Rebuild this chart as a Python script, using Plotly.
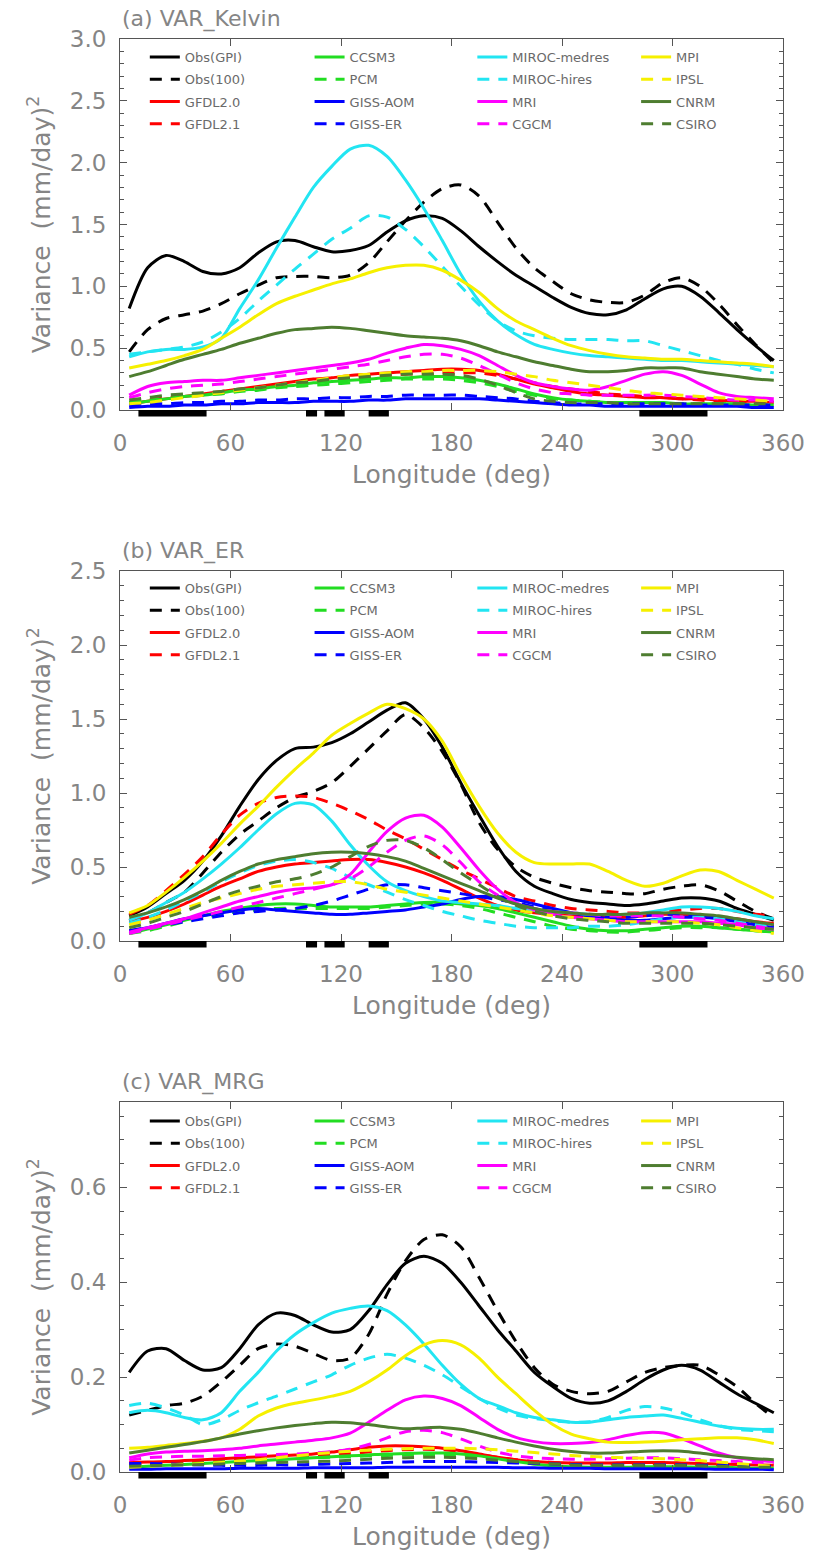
import plotly.graph_objects as go

# ---------------- data ----------------
LON = [5, 15, 25, 35, 45, 55, 65, 75, 85, 95, 105, 115, 125, 135, 145, 155, 165, 175,
       185, 195, 205, 215, 225, 235, 245, 255, 265, 275, 285, 295, 305, 315, 325, 335, 345, 355]

MODEL_NAMES = ["Obs(GPI)", "Obs(100)", "GFDL2.0", "GFDL2.1",
               "CCSM3", "PCM", "GISS-AOM", "GISS-ER",
               "MIROC-medres", "MIROC-hires", "MRI", "CGCM",
               "MPI", "IPSL", "CNRM", "CSIRO"]

# land longitude segments (black bars under the x axis)
LAND_START = [10, 101, 111, 135, 282]
LAND_END = [47, 107, 122, 146, 319]

X_TICKS = [0, 60, 120, 180, 240, 300, 360]

# (a) Kelvin
A_GPI = [0.82,1.15,1.25,1.20,1.12,1.10,1.15,1.27,1.36,1.37,1.32,1.28,1.29,1.33,1.44,1.53,1.57,1.55,1.45,1.32,1.20,1.09,1.00,0.91,0.83,0.78,0.77,0.81,0.90,0.98,1.00,0.92,0.79,0.65,0.52,0.40]
A_O100 = [0.47,0.65,0.74,0.77,0.80,0.86,0.94,1.01,1.07,1.08,1.08,1.07,1.09,1.19,1.36,1.53,1.68,1.79,1.82,1.73,1.52,1.31,1.15,1.04,0.94,0.89,0.87,0.87,0.93,1.03,1.07,1.00,0.86,0.69,0.53,0.38]
A_GFDL20 = [0.05,0.07,0.09,0.11,0.13,0.15,0.17,0.19,0.21,0.23,0.25,0.26,0.28,0.29,0.30,0.31,0.32,0.33,0.33,0.32,0.29,0.25,0.21,0.18,0.15,0.13,0.12,0.11,0.10,0.10,0.09,0.09,0.08,0.07,0.07,0.06]
A_GFDL21 = [0.06,0.08,0.10,0.11,0.12,0.14,0.16,0.18,0.20,0.22,0.23,0.25,0.26,0.27,0.28,0.29,0.29,0.30,0.30,0.30,0.28,0.25,0.22,0.19,0.17,0.15,0.13,0.12,0.11,0.10,0.09,0.08,0.07,0.07,0.06,0.06]
A_CCSM3 = [0.05,0.07,0.09,0.11,0.12,0.14,0.16,0.17,0.19,0.20,0.22,0.23,0.24,0.25,0.26,0.26,0.27,0.27,0.26,0.24,0.21,0.17,0.13,0.10,0.08,0.07,0.06,0.06,0.06,0.06,0.05,0.05,0.05,0.05,0.04,0.04]
A_PCM = [0.06,0.08,0.09,0.11,0.12,0.13,0.15,0.16,0.18,0.19,0.20,0.21,0.22,0.23,0.24,0.25,0.25,0.25,0.24,0.22,0.19,0.15,0.12,0.09,0.08,0.07,0.06,0.06,0.06,0.05,0.05,0.05,0.05,0.05,0.04,0.04]
A_GISSAOM = [0.02,0.03,0.03,0.04,0.04,0.05,0.05,0.06,0.06,0.06,0.07,0.07,0.07,0.08,0.08,0.09,0.09,0.09,0.09,0.09,0.08,0.07,0.06,0.05,0.04,0.04,0.03,0.03,0.03,0.03,0.03,0.03,0.03,0.03,0.02,0.02]
A_GISSER = [0.04,0.05,0.05,0.06,0.06,0.07,0.07,0.08,0.08,0.09,0.09,0.10,0.10,0.11,0.11,0.12,0.12,0.12,0.12,0.11,0.10,0.09,0.07,0.06,0.05,0.05,0.05,0.05,0.05,0.05,0.05,0.04,0.04,0.04,0.04,0.04]
A_MIROCM = [0.43,0.47,0.49,0.49,0.51,0.58,0.82,1.05,1.31,1.56,1.80,1.97,2.11,2.14,2.05,1.86,1.63,1.37,1.10,0.88,0.72,0.61,0.53,0.49,0.46,0.44,0.43,0.42,0.41,0.40,0.40,0.39,0.38,0.37,0.36,0.35]
A_MIROCH = [0.45,0.47,0.49,0.51,0.55,0.63,0.74,0.88,1.01,1.14,1.26,1.38,1.47,1.57,1.56,1.46,1.32,1.16,1.00,0.85,0.72,0.64,0.60,0.58,0.57,0.57,0.57,0.56,0.56,0.52,0.48,0.44,0.40,0.37,0.33,0.30]
A_MRI = [0.12,0.19,0.22,0.23,0.24,0.24,0.26,0.28,0.30,0.32,0.34,0.36,0.38,0.41,0.46,0.50,0.53,0.52,0.49,0.44,0.36,0.28,0.22,0.19,0.17,0.16,0.19,0.24,0.29,0.31,0.28,0.21,0.14,0.11,0.10,0.09]
A_CGCM = [0.10,0.14,0.17,0.19,0.20,0.21,0.23,0.25,0.27,0.29,0.31,0.33,0.35,0.37,0.40,0.43,0.45,0.45,0.42,0.36,0.29,0.22,0.17,0.14,0.13,0.12,0.12,0.12,0.12,0.12,0.11,0.10,0.09,0.08,0.08,0.07]
A_MPI = [0.34,0.37,0.40,0.44,0.49,0.58,0.67,0.77,0.86,0.92,0.97,1.02,1.06,1.11,1.15,1.17,1.17,1.13,1.05,0.95,0.82,0.72,0.65,0.58,0.52,0.48,0.45,0.43,0.42,0.41,0.41,0.40,0.39,0.38,0.37,0.35]
A_IPSL = [0.05,0.06,0.08,0.10,0.12,0.14,0.16,0.18,0.20,0.22,0.24,0.26,0.28,0.29,0.30,0.31,0.31,0.32,0.32,0.32,0.31,0.29,0.27,0.24,0.22,0.20,0.18,0.16,0.14,0.13,0.12,0.11,0.10,0.09,0.08,0.07]
A_CNRM = [0.27,0.31,0.36,0.41,0.45,0.49,0.54,0.58,0.62,0.65,0.66,0.67,0.66,0.64,0.62,0.60,0.59,0.58,0.56,0.52,0.47,0.43,0.39,0.36,0.33,0.31,0.31,0.32,0.34,0.34,0.34,0.31,0.29,0.27,0.25,0.24]
A_CSIRO = [0.08,0.10,0.12,0.13,0.14,0.15,0.17,0.18,0.20,0.22,0.23,0.25,0.26,0.27,0.28,0.29,0.29,0.29,0.28,0.25,0.20,0.14,0.09,0.07,0.06,0.06,0.06,0.05,0.05,0.05,0.05,0.05,0.05,0.05,0.05,0.05]

# (b) ER
B_GPI = [0.17,0.23,0.32,0.41,0.54,0.71,0.91,1.09,1.22,1.30,1.31,1.34,1.40,1.48,1.56,1.61,1.50,1.31,1.07,0.85,0.64,0.47,0.37,0.32,0.28,0.26,0.25,0.24,0.25,0.27,0.29,0.29,0.27,0.22,0.18,0.14]
B_O100 = [0.14,0.19,0.26,0.33,0.46,0.60,0.72,0.81,0.90,0.97,1.01,1.07,1.18,1.30,1.42,1.53,1.44,1.28,1.06,0.80,0.62,0.50,0.43,0.39,0.36,0.34,0.33,0.32,0.32,0.35,0.37,0.38,0.34,0.27,0.20,0.15]
B_GFDL20 = [0.13,0.16,0.20,0.25,0.31,0.37,0.42,0.47,0.50,0.52,0.53,0.54,0.55,0.55,0.53,0.50,0.46,0.41,0.35,0.29,0.24,0.21,0.19,0.18,0.17,0.16,0.16,0.16,0.17,0.18,0.18,0.17,0.16,0.15,0.13,0.12]
B_GFDL21 = [0.18,0.24,0.34,0.45,0.57,0.72,0.85,0.93,0.97,0.98,0.97,0.93,0.88,0.82,0.75,0.69,0.62,0.55,0.48,0.42,0.36,0.30,0.27,0.24,0.22,0.21,0.20,0.19,0.19,0.20,0.21,0.22,0.22,0.20,0.18,0.17]
B_CCSM3 = [0.05,0.08,0.11,0.14,0.17,0.20,0.22,0.24,0.25,0.25,0.24,0.23,0.23,0.23,0.24,0.25,0.26,0.26,0.25,0.24,0.22,0.19,0.16,0.13,0.10,0.08,0.07,0.07,0.08,0.09,0.10,0.10,0.09,0.08,0.07,0.06]
B_PCM = [0.05,0.07,0.10,0.13,0.16,0.18,0.20,0.21,0.22,0.22,0.22,0.22,0.22,0.22,0.23,0.24,0.25,0.25,0.24,0.22,0.19,0.16,0.13,0.10,0.08,0.07,0.06,0.06,0.07,0.08,0.09,0.09,0.09,0.08,0.07,0.06]
B_GISSAOM = [0.07,0.09,0.12,0.15,0.17,0.19,0.21,0.22,0.21,0.20,0.19,0.18,0.18,0.19,0.20,0.21,0.23,0.25,0.28,0.30,0.30,0.28,0.25,0.22,0.19,0.17,0.15,0.14,0.14,0.15,0.16,0.16,0.15,0.13,0.11,0.09]
B_GISSER = [0.07,0.09,0.11,0.13,0.15,0.17,0.19,0.20,0.21,0.22,0.24,0.27,0.31,0.35,0.38,0.38,0.36,0.34,0.32,0.30,0.28,0.26,0.23,0.21,0.19,0.17,0.16,0.16,0.17,0.18,0.18,0.17,0.16,0.14,0.12,0.10]
B_MIROCM = [0.14,0.19,0.26,0.33,0.42,0.52,0.63,0.75,0.86,0.93,0.92,0.81,0.65,0.51,0.40,0.34,0.30,0.27,0.26,0.25,0.24,0.22,0.21,0.20,0.19,0.18,0.18,0.18,0.19,0.21,0.23,0.23,0.22,0.20,0.17,0.15]
B_MIROCH = [0.12,0.16,0.21,0.27,0.33,0.40,0.46,0.51,0.54,0.55,0.53,0.49,0.43,0.38,0.33,0.28,0.24,0.20,0.17,0.14,0.12,0.10,0.09,0.09,0.09,0.10,0.10,0.11,0.13,0.15,0.16,0.16,0.15,0.13,0.11,0.10]
B_MRI = [0.06,0.09,0.12,0.15,0.19,0.23,0.27,0.30,0.33,0.35,0.36,0.38,0.45,0.60,0.74,0.83,0.85,0.77,0.63,0.48,0.35,0.26,0.21,0.18,0.16,0.15,0.14,0.13,0.13,0.13,0.13,0.13,0.12,0.11,0.09,0.08]
B_CGCM = [0.05,0.08,0.11,0.14,0.17,0.20,0.23,0.26,0.29,0.32,0.35,0.38,0.42,0.50,0.60,0.68,0.71,0.65,0.53,0.40,0.31,0.25,0.22,0.20,0.19,0.18,0.17,0.17,0.17,0.17,0.16,0.15,0.14,0.12,0.10,0.08]
B_MPI = [0.19,0.24,0.33,0.43,0.54,0.66,0.79,0.91,1.04,1.16,1.27,1.39,1.47,1.54,1.60,1.57,1.50,1.35,1.12,0.91,0.73,0.60,0.53,0.52,0.52,0.52,0.47,0.41,0.37,0.39,0.44,0.48,0.47,0.41,0.35,0.29]
B_IPSL = [0.11,0.14,0.18,0.22,0.26,0.29,0.32,0.35,0.37,0.38,0.39,0.40,0.40,0.38,0.35,0.33,0.31,0.29,0.27,0.25,0.23,0.21,0.19,0.17,0.16,0.15,0.14,0.13,0.13,0.13,0.13,0.12,0.11,0.09,0.07,0.05]
B_CNRM = [0.16,0.19,0.23,0.28,0.34,0.41,0.47,0.52,0.55,0.57,0.59,0.60,0.60,0.59,0.57,0.54,0.49,0.44,0.39,0.34,0.29,0.25,0.22,0.20,0.19,0.18,0.18,0.18,0.19,0.19,0.19,0.18,0.17,0.15,0.13,0.11]
B_CSIRO = [0.09,0.12,0.16,0.20,0.25,0.30,0.34,0.37,0.40,0.42,0.45,0.50,0.57,0.64,0.68,0.68,0.63,0.55,0.46,0.38,0.30,0.24,0.20,0.17,0.15,0.14,0.13,0.12,0.12,0.12,0.12,0.12,0.11,0.10,0.09,0.08]

# (c) MRG
C_GPI = [0.21,0.255,0.26,0.235,0.215,0.22,0.26,0.31,0.335,0.33,0.31,0.295,0.30,0.34,0.395,0.44,0.455,0.44,0.40,0.35,0.30,0.255,0.21,0.18,0.155,0.145,0.15,0.17,0.195,0.215,0.225,0.215,0.19,0.165,0.145,0.125]
C_O100 = [0.12,0.13,0.14,0.145,0.16,0.19,0.225,0.26,0.27,0.265,0.25,0.235,0.24,0.29,0.375,0.445,0.49,0.50,0.475,0.41,0.34,0.275,0.22,0.185,0.17,0.165,0.17,0.19,0.21,0.22,0.225,0.225,0.205,0.18,0.145,0.115]
C_GFDL20 = [0.02,0.021,0.022,0.024,0.026,0.028,0.03,0.032,0.034,0.036,0.038,0.042,0.047,0.052,0.055,0.055,0.053,0.05,0.045,0.038,0.031,0.026,0.022,0.02,0.019,0.019,0.019,0.02,0.02,0.02,0.019,0.018,0.017,0.016,0.015,0.014]
C_GFDL21 = [0.015,0.016,0.018,0.02,0.022,0.024,0.026,0.028,0.03,0.032,0.034,0.036,0.039,0.042,0.045,0.047,0.048,0.047,0.043,0.037,0.031,0.026,0.022,0.02,0.018,0.017,0.017,0.017,0.017,0.017,0.016,0.015,0.014,0.013,0.012,0.012]
C_CCSM3 = [0.01,0.012,0.014,0.016,0.018,0.02,0.022,0.024,0.026,0.028,0.03,0.032,0.034,0.036,0.038,0.039,0.04,0.04,0.038,0.034,0.028,0.022,0.017,0.013,0.011,0.01,0.01,0.01,0.011,0.011,0.011,0.01,0.01,0.009,0.008,0.008]
C_PCM = [0.012,0.013,0.015,0.017,0.019,0.021,0.023,0.025,0.027,0.029,0.03,0.031,0.032,0.034,0.035,0.036,0.037,0.037,0.035,0.031,0.026,0.021,0.017,0.014,0.012,0.011,0.011,0.011,0.011,0.011,0.011,0.011,0.01,0.01,0.009,0.009]
C_GISSAOM = [0.006,0.006,0.007,0.007,0.007,0.007,0.008,0.008,0.008,0.008,0.009,0.009,0.009,0.009,0.010,0.010,0.010,0.010,0.010,0.010,0.010,0.009,0.009,0.008,0.008,0.008,0.007,0.007,0.007,0.007,0.007,0.007,0.006,0.006,0.006,0.005]
C_GISSER = [0.018,0.018,0.017,0.016,0.015,0.014,0.014,0.014,0.015,0.015,0.016,0.017,0.018,0.019,0.020,0.021,0.022,0.022,0.022,0.021,0.020,0.019,0.018,0.017,0.016,0.015,0.015,0.015,0.015,0.015,0.015,0.014,0.014,0.013,0.012,0.012]
C_MIROCM = [0.125,0.13,0.125,0.115,0.11,0.125,0.17,0.21,0.255,0.29,0.315,0.335,0.345,0.35,0.34,0.31,0.27,0.225,0.185,0.155,0.14,0.125,0.115,0.11,0.105,0.105,0.11,0.115,0.118,0.12,0.113,0.105,0.097,0.092,0.09,0.09]
C_MIROCH = [0.14,0.145,0.135,0.12,0.10,0.11,0.13,0.146,0.16,0.175,0.19,0.205,0.225,0.24,0.248,0.24,0.225,0.205,0.18,0.155,0.135,0.12,0.113,0.108,0.105,0.106,0.115,0.13,0.138,0.135,0.125,0.11,0.098,0.09,0.087,0.085]
C_MRI = [0.03,0.038,0.042,0.044,0.045,0.047,0.05,0.055,0.059,0.063,0.067,0.072,0.082,0.105,0.13,0.152,0.16,0.155,0.14,0.115,0.09,0.073,0.064,0.06,0.06,0.062,0.068,0.077,0.083,0.082,0.07,0.055,0.04,0.03,0.025,0.022]
C_CGCM = [0.025,0.03,0.032,0.033,0.033,0.034,0.035,0.036,0.037,0.038,0.04,0.043,0.048,0.058,0.072,0.085,0.088,0.083,0.07,0.055,0.042,0.034,0.03,0.028,0.027,0.027,0.028,0.029,0.03,0.03,0.028,0.026,0.024,0.022,0.02,0.02]
C_MPI = [0.05,0.052,0.056,0.06,0.065,0.072,0.09,0.118,0.135,0.145,0.152,0.16,0.17,0.19,0.215,0.245,0.268,0.277,0.268,0.24,0.20,0.165,0.13,0.10,0.08,0.07,0.063,0.062,0.063,0.065,0.068,0.07,0.072,0.072,0.068,0.06]
C_IPSL = [0.01,0.012,0.014,0.016,0.018,0.02,0.023,0.026,0.03,0.034,0.038,0.041,0.044,0.046,0.048,0.049,0.05,0.05,0.05,0.049,0.047,0.044,0.041,0.038,0.035,0.033,0.031,0.03,0.029,0.028,0.026,0.024,0.021,0.018,0.015,0.012]
C_CNRM = [0.04,0.046,0.052,0.058,0.064,0.072,0.08,0.087,0.093,0.098,0.102,0.105,0.104,0.1,0.095,0.091,0.093,0.094,0.09,0.082,0.072,0.063,0.055,0.048,0.043,0.04,0.04,0.042,0.044,0.045,0.044,0.04,0.035,0.031,0.028,0.026]
C_CSIRO = [0.012,0.013,0.014,0.015,0.016,0.017,0.018,0.019,0.02,0.021,0.022,0.023,0.025,0.027,0.029,0.03,0.031,0.031,0.03,0.028,0.025,0.022,0.019,0.017,0.015,0.014,0.014,0.014,0.014,0.014,0.014,0.013,0.012,0.011,0.01,0.01]

PANEL_A = [A_GPI, A_O100, A_GFDL20, A_GFDL21, A_CCSM3, A_PCM, A_GISSAOM, A_GISSER,
           A_MIROCM, A_MIROCH, A_MRI, A_CGCM, A_MPI, A_IPSL, A_CNRM, A_CSIRO]
PANEL_B = [B_GPI, B_O100, B_GFDL20, B_GFDL21, B_CCSM3, B_PCM, B_GISSAOM, B_GISSER,
           B_MIROCM, B_MIROCH, B_MRI, B_CGCM, B_MPI, B_IPSL, B_CNRM, B_CSIRO]
PANEL_C = [C_GPI, C_O100, C_GFDL20, C_GFDL21, C_CCSM3, C_PCM, C_GISSAOM, C_GISSER,
           C_MIROCM, C_MIROCH, C_MRI, C_CGCM, C_MPI, C_IPSL, C_CNRM, C_CSIRO]

PANEL_TITLES = ["(a) VAR_Kelvin", "(b) VAR_ER", "(c) VAR_MRG"]
Y_RANGES = [[0, 3.0], [0, 2.5], [0, 0.78]]
Y_MAJOR = [0.5, 0.5, 0.2]
Y_MINOR = [0.1, 0.1, 0.05]

# ---------------- styles ----------------
BLACK, RED, GREEN, BLUE = "#000000", "#ff0000", "#22dd22", "#0000ff"
CYAN, MAGENTA, YELLOW, OLIVE = "#22e5f2", "#ff00ff", "#f6f000", "#4e7d30"
COLORS = [BLACK, BLACK, RED, RED, GREEN, GREEN, BLUE, BLUE,
          CYAN, CYAN, MAGENTA, MAGENTA, YELLOW, YELLOW, OLIVE, OLIVE]
DASHED = [False, True] * 8
DASH = "12px,9px"

FONT = "DejaVu Sans"
TXT = "#858585"
LEGTXT = "#6a6a6a"
AXC = "#555555"

W, H = 817, 1558
ML, MR, MT, MB = 120, 29, 39, 86
PH = H - MT - MB  # plotting height in px
PW = W - ML - MR

# panel boxes in px (top, bottom)
BOX = [(39, 410), (571, 941), (1102, 1472)]


def ydom(top, bottom):
    return [1 - (bottom - MT) / PH, 1 - (top - MT) / PH]


fig = go.Figure()

panels = [PANEL_A, PANEL_B, PANEL_C]
legend_cols_px = [145, 311, 475, 640]
legend_top_px = [42, 573, 1106]

for p, data in enumerate(panels):
    xa = "x" if p == 0 else f"x{p+1}"
    ya = "y" if p == 0 else f"y{p+1}"
    for i, (name, vals) in enumerate(zip(MODEL_NAMES, data)):
        leg_idx = p * 4 + i // 4 + 1
        leg = "legend" if leg_idx == 1 else f"legend{leg_idx}"
        fig.add_trace(go.Scatter(
            x=LON, y=vals, mode="lines", name=name,
            line=dict(color=COLORS[i], width=3, shape="spline", smoothing=0.8,
                      dash=DASH if DASHED[i] else "solid"),
            xaxis=xa, yaxis=ya, legend=leg, legendgroup=f"p{p}_{i}",
            showlegend=True, hoverinfo="skip"))

layout = dict(
    width=W, height=H,
    margin=dict(l=ML, r=MR, t=MT, b=MB, pad=0),
    paper_bgcolor="white", plot_bgcolor="white",
    font=dict(family=FONT, color=TXT),
    shapes=[], annotations=[],
)

for p in range(3):
    sfx = "" if p == 0 else str(p + 1)
    top, bottom = BOX[p]
    layout[f"xaxis{sfx}"] = dict(
        domain=[0, 1], anchor=f"y{sfx}", range=[0, 360],
        tickmode="array", tickvals=X_TICKS, ticktext=[str(v) for v in X_TICKS],
        ticks="inside", ticklen=7, tickwidth=1, tickcolor=AXC,
        showline=True, linecolor=AXC, linewidth=1, mirror="ticks",
        showgrid=False, zeroline=False,
        tickfont=dict(family=FONT, size=23, color=TXT),
        ticklabelstandoff=12,
        title=dict(text="Longitude (deg)", font=dict(family=FONT, size=25, color=TXT), standoff=10),
    )
    layout[f"yaxis{sfx}"] = dict(
        domain=ydom(top, bottom), anchor=f"x{sfx}", range=Y_RANGES[p],
        tick0=0, dtick=Y_MAJOR[p], tickformat=".1f",
        ticks="inside", ticklen=7, tickwidth=1, tickcolor=AXC,
        minor=dict(dtick=Y_MINOR[p], tick0=0, ticks="inside", ticklen=4, tickcolor=AXC),
        showline=True, linecolor=AXC, linewidth=1, mirror="ticks",
        showgrid=False, zeroline=False,
        tickfont=dict(family=FONT, size=23, color=TXT),
        ticklabelstandoff=8,
        title=dict(text="Variance  (mm/day)<sup>2</sup>", font=dict(family=FONT, size=25, color=TXT), standoff=12),
    )
    # panel title
    layout["annotations"].append(dict(
        text=PANEL_TITLES[p], xref=f"x{sfx} domain", yref=f"y{sfx} domain",
        x=0.0, y=1 + 20 / (bottom - top), xanchor="left", yanchor="middle",
        showarrow=False, font=dict(family=FONT, size=22, color=TXT)))
    # land bars under the axis
    for x0, x1 in zip(LAND_START, LAND_END):
        layout["shapes"].append(dict(
            type="rect", xref=f"x{sfx}", yref=f"y{sfx} domain",
            x0=x0, x1=x1, y0=-6.5 / (bottom - top), y1=0,
            fillcolor="black", line=dict(width=0), layer="above"))
    # legends (4 columns)
    for c in range(4):
        idx = p * 4 + c + 1
        key = "legend" if idx == 1 else f"legend{idx}"
        layout[key] = dict(
            x=(legend_cols_px[c] - ML) / PW,
            y=1 - (legend_top_px[p] - MT) / PH,
            xanchor="left", yanchor="top",
            bgcolor="rgba(0,0,0,0)", borderwidth=0,
            font=dict(family=FONT, size=13, color=LEGTXT),
            traceorder="grouped", tracegroupgap=2.4, itemwidth=30,
        )

fig.update_layout(**layout)
fig.write_html("out.html")
